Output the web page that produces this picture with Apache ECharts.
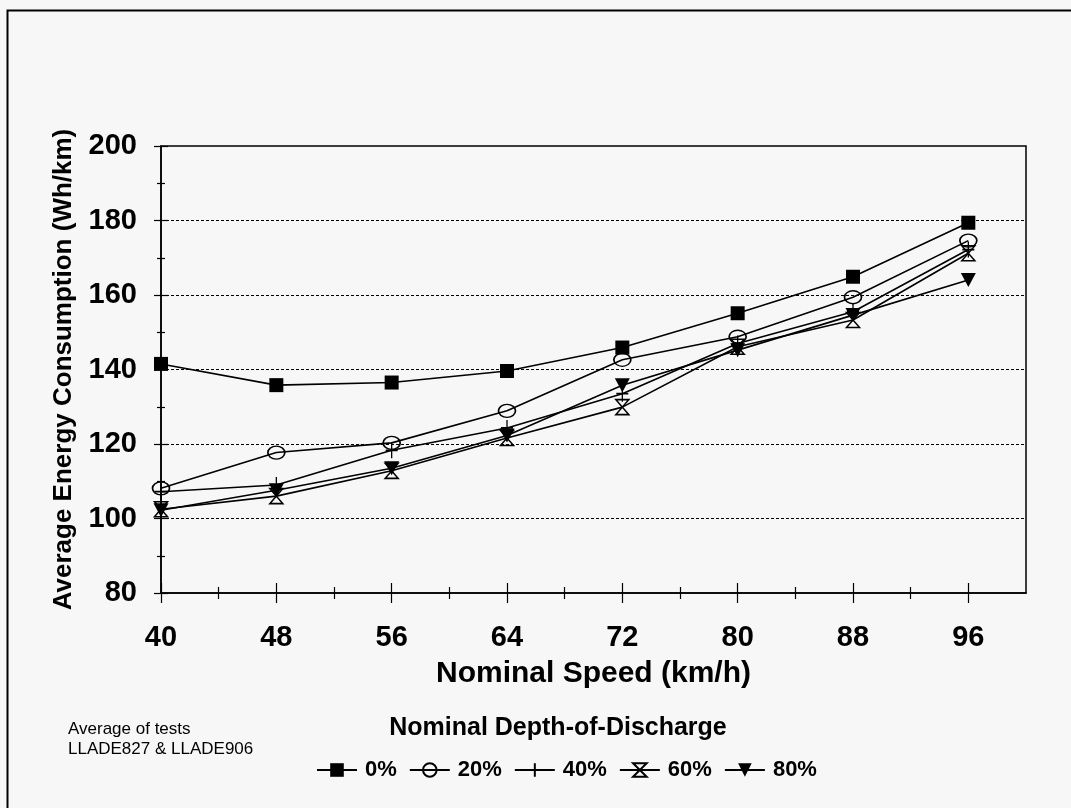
<!DOCTYPE html>
<html>
<head>
<meta charset="utf-8">
<script src="https://cdn.jsdelivr.net/npm/echarts@6/dist/echarts.min.js"></script>
<style>
html,body{margin:0;padding:0;background:#f7f7f7;}
#chart{width:1071px;height:808px;}
</style>
</head>
<body>
<div id="chart"></div>
<script>
// ---- data ----
const speeds = [40, 48, 56, 64, 72, 80, 88, 96];
const minorSpeedTicks = [44, 52, 60, 68, 76, 84, 92];
const seriesNames = ['0%', '20%', '40%', '60%', '80%'];
const dod0  = [141.5, 135.8, 136.5, 139.6, 145.9, 155.1, 164.9, 179.4];
const dod20 = [108.1, 117.7, 120.3, 128.9, 142.6, 148.8, 159.4, 174.6];
const dod40 = [107.2, 109.0, 118.3, 124.3, 133.5, 147.0, 155.5, 172.2];
const dod60 = [102.5, 106.0, 112.8, 121.6, 129.9, 146.1, 153.3, 171.2];
const dod80 = [102.2, 107.6, 113.5, 122.3, 135.8, 145.2, 154.6, 164.0];
const xTitle = 'Nominal Speed (km/h)';
const yTitle = 'Average Energy Consumption (Wh/km)';
const legendTitle = 'Nominal Depth-of-Discharge';
const noteLines = ['Average of tests', 'LLADE827 & LLADE906'];

const FONT = '"Liberation Sans", Arial, sans-serif';
const pairs = vals => speeds.map((s, i) => [s, vals[i]]);

const lineStyle = { color: '#000', width: 1.6 };
function mk(name, vals, symbol, size, item) {
  return {
    name, type: 'line', data: pairs(vals), symbol, symbolSize: size,
    xAxisIndex: 0, yAxisIndex: 0,
    lineStyle, itemStyle: item, emphasis: { disabled: true }, z: 3
  };
}

const chart = echarts.init(document.getElementById('chart'), null, { renderer: 'canvas' });

const baseX = { type: 'value', min: 40, max: 100, interval: 8, gridIndex: 0, position: 'bottom', offset: 0 };
const baseY = { type: 'value', min: 80, max: 200, interval: 20, gridIndex: 0, position: 'left', offset: 0 };
const noLbl = { show: false };
const tickLine = { color: '#000', width: 1.2 };

const option = {
  animation: false,
  backgroundColor: '#f7f7f7',
  grid: { left: 161, top: 146, right: 45, bottom: 215, show: true, borderColor: '#000', borderWidth: 1.5, backgroundColor: 'transparent' },
  xAxis: [
    Object.assign({}, baseX, {
      name: xTitle, nameLocation: 'middle', nameGap: 66,
      nameTextStyle: { fontFamily: FONT, fontWeight: 'bold', fontSize: 30, color: '#000' },
      axisLine: { show: true, lineStyle: { color: '#000', width: 1.5 } },
      axisTick: { show: true, length: 10, customValues: speeds, lineStyle: tickLine },
      axisLabel: { show: true, margin: 30, customValues: speeds, fontFamily: FONT, fontWeight: 'bold', fontSize: 29, color: '#000' },
      splitLine: { show: false }
    }),
    Object.assign({}, baseX, {
      axisLine: { show: false }, axisLabel: noLbl, splitLine: { show: false },
      axisTick: { show: true, inside: true, length: 10, customValues: speeds, lineStyle: tickLine }
    }),
    Object.assign({}, baseX, {
      axisLine: { show: false }, axisLabel: noLbl, splitLine: { show: false },
      axisTick: { show: true, length: 6, customValues: minorSpeedTicks, lineStyle: tickLine }
    }),
    Object.assign({}, baseX, {
      axisLine: { show: false }, axisLabel: noLbl, splitLine: { show: false },
      axisTick: { show: true, inside: true, length: 6, customValues: minorSpeedTicks, lineStyle: tickLine }
    })
  ],
  yAxis: [
    Object.assign({}, baseY, {
      name: yTitle, nameLocation: 'middle', nameGap: 84,
      nameTextStyle: { fontFamily: FONT, fontWeight: 'bold', fontSize: 26, color: '#000' },
      axisLine: { show: true, lineStyle: { color: '#000', width: 1.5 } },
      axisTick: { show: true, length: 7, lineStyle: tickLine },
      minorTick: { show: true, splitNumber: 2, length: 4, lineStyle: tickLine },
      axisLabel: { margin: 24, fontFamily: FONT, fontWeight: 'bold', fontSize: 29, color: '#000' },
      splitLine: { show: true, showMinLine: false, showMaxLine: false, lineStyle: { color: '#000', width: 1, type: [3, 2] } }
    }),
    Object.assign({}, baseY, {
      axisLine: { show: false }, axisLabel: noLbl, splitLine: { show: false },
      axisTick: { show: true, inside: true, length: 7, lineStyle: tickLine },
      minorTick: { show: true, splitNumber: 2, length: 4, lineStyle: tickLine }
    })
  ],
  legend: {
    left: 311, top: 754, itemWidth: 40, itemHeight: 17, itemGap: 12,
    data: seriesNames,
    textStyle: { fontFamily: FONT, fontWeight: 'bold', fontSize: 22, color: '#000', padding: [0, 0, 0, 3] }
  },
  series: [
    mk(seriesNames[0], dod0, 'rect', 14, { color: '#000' }),
    mk(seriesNames[1], dod20, 'circle', [17, 13], { color: 'rgba(0,0,0,0)', borderColor: '#000', borderWidth: 1.5 }),
    mk(seriesNames[2], dod40, 'path://M5,0L5,10M0,5L10,5', [12, 16], { color: 'rgba(0,0,0,0)', borderColor: '#000', borderWidth: 1.5 }),
    mk(seriesNames[3], dod60, 'path://M0,0L10,0L0,12L10,12Z', [13, 15], { color: 'rgba(0,0,0,0)', borderColor: '#000', borderWidth: 1.5 }),
    mk(seriesNames[4], dod80, 'path://M0,0L10,0L5,10Z', [15, 14], { color: '#000' })
  ],
  graphic: [
    { type: 'rect', left: 5, top: 8, shape: { width: 1100, height: 900 }, style: { fill: 'none', stroke: '#000', lineWidth: 2 }, silent: true },
    { type: 'text', x: 558, y: 728, style: { text: legendTitle, align: 'center', verticalAlign: 'middle', fontFamily: FONT, fontWeight: 'bold', fontSize: 25, fill: '#000' } },
    { type: 'text', x: 68, y: 729, style: { text: noteLines[0], align: 'left', verticalAlign: 'middle', fontFamily: FONT, fontSize: 17, fill: '#000' } },
    { type: 'text', x: 68, y: 749, style: { text: noteLines[1], align: 'left', verticalAlign: 'middle', fontFamily: FONT, fontSize: 17, fill: '#000' } }
  ]
};
chart.setOption(option);
</script>
</body>
</html>
